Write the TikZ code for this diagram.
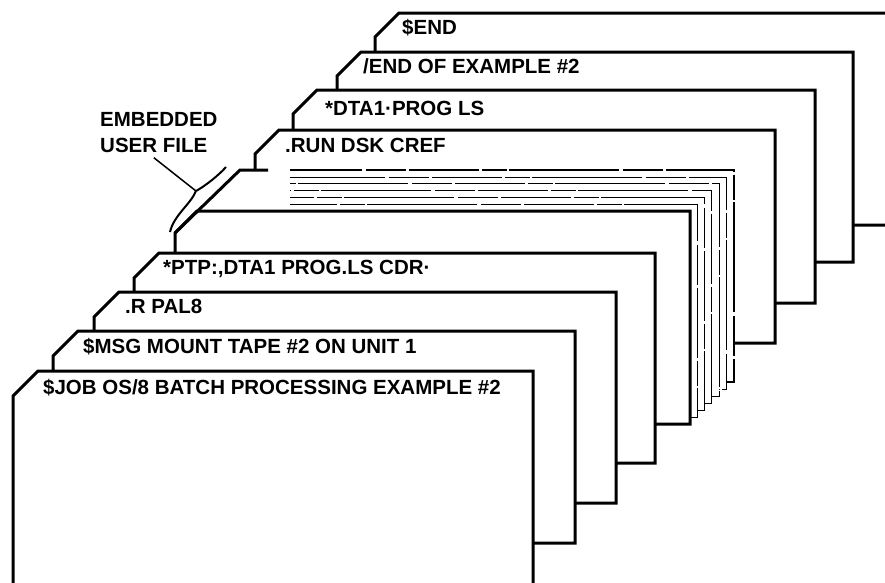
\documentclass[tikz,border=0pt]{standalone}
\usepackage{fontspec}
\setmainfont{Liberation Sans}
\usetikzlibrary{calc}

\tikzset{
  card/.style={draw=black, fill=white, line width=3pt, line join=miter},
  leaf/.style={draw=black, dash pattern=on 70pt off 3pt on 25pt off 2pt on 110pt off 4pt on 40pt off 3pt},
  cardtext/.style={anchor=base west, inner sep=0pt, font=\bfseries\fontsize{20.5}{26}\selectfont}
}

\begin{document}
\begin{tikzpicture}[x=1pt, y=-1pt]
\useasboundingbox (0,0) rectangle (885,582);
\clip (0,0) rectangle (885,582);
% cards behind the user file
\foreach \L/\T/\R/\B in {375/13/895/225, 337/52/853/262, 293/90/815/303, 255/130/775/343} {
  \draw[card] (\L,\B) -- (\L,\T+24) -- (\L+24,\T) -- (\R,\T) -- (\R,\B) -- cycle;
}
% embedded user file
\foreach \k in {6,...,1} {
  \pgfmathsetmacro{\T}{211-6.8*\k}
  \pgfmathsetmacro{\R}{690+7.3*\k}
  \pgfmathsetmacro{\B}{424-7*\k}
  \pgfmathsetmacro{\w}{ifthenelse(\k==6,2.2,0.9)}
  \pgfmathsetmacro{\ph}{23*\k}
  \fill[white] (387-\T,\B) -- (387-\T,\T+22) -- (409-\T,\T) -- (\R,\T) -- (\R,\B) -- cycle;
  \draw[leaf, line width=\w pt, dash phase=\ph pt] (290,\T) -- (\R,\T) -- (\R,\B) -- ++(-8,0);
}
\draw[card] (175,424) -- (175,233) -- (197,211) -- (690,211) -- (690,424) -- cycle;
\draw[line width=3pt] (175,233) -- (240,170) -- (268,170);
\coordinate (brk) at (196,191);
\draw[line width=2pt] (170,232) .. controls (174,215) and (190,205) .. (brk) .. controls (205,186) and (218,176) .. (226,167);
\node[anchor=north west, align=left, inner sep=0pt, font=\bfseries\fontsize{20.5}{26}\selectfont] (embed) at (100,112) {EMBEDDED\\USER FILE};
\draw[line width=1.5pt] ([xshift=-5pt,yshift=-5pt]embed.south) -- (brk);
% cards in front
\foreach \L/\T/\R/\B in {134/253/655/463, 94/292/616/503, 53/331/575/543, 13/371/533/600} {
  \draw[card] (\L,\B) -- (\L,\T+25) -- (\L+25,\T) -- (\R,\T) -- (\R,\B) -- cycle;
}
\node[cardtext] (send) at (402,34) {\$END};
\node[cardtext] (eoe) at (363,73) {/END OF EXAMPLE \#2};
\node[cardtext] (dta) at (325,115) {*DTA1·PROG LS};
\node[cardtext] (run) at (285,152) {.RUN DSK CREF};
\node[cardtext] (ptp) at (163,274) {*PTP:,DTA1 PROG.LS CDR·};
\node[cardtext] (pal) at (125,313) {.R PAL8};
\node[cardtext] (msg) at (83,353) {\$MSG MOUNT TAPE \#2 ON UNIT 1};
\node[cardtext] (job) at (43,394) {\$JOB OS/8 BATCH PROCESSING EXAMPLE \#2};
\end{tikzpicture}
\end{document}
